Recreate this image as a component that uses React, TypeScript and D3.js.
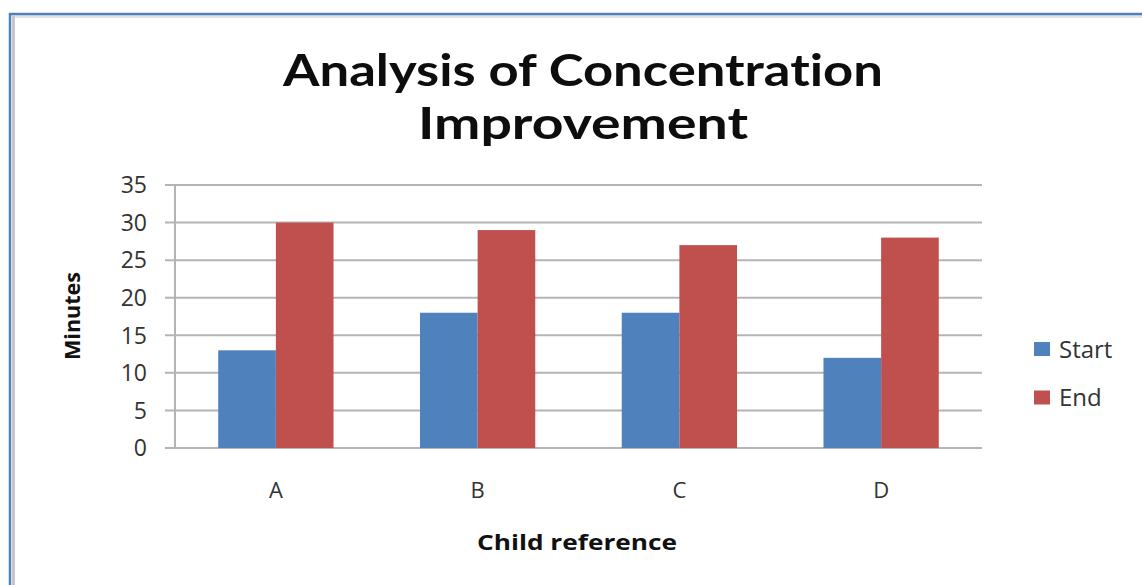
import React, { useEffect, useRef } from "react";
import * as d3 from "d3";

const categories = ["A", "B", "C", "D"];
const seriesNames = ["Start", "End"];
const startValues = [13, 18, 18, 12];
const endValues = [30, 29, 27, 28];
const yTicks = [0, 5, 10, 15, 20, 25, 30, 35];
const colors = ["#4f81bd", "#c0504d"];

const W = 1142, H = 585;

export default function App() {
  const ref = useRef<SVGSVGElement>(null);

  useEffect(() => {
    const svg = d3.select(ref.current);
    svg.selectAll("*").remove();

    const margin = { top: 185, right: 160, bottom: 137, left: 175 };
    const w = W - margin.left - margin.right,
      h = H - margin.top - margin.bottom;
    const font = "Open Sans, sans-serif";

    // outer frame (cropped screenshot of an Excel chart)
    svg.append("rect").attr("width", W).attr("height", H).attr("fill", "#fff");
    svg.append("line").attr("x1", 12).attr("x2", W).attr("y1", 16.5).attr("y2", 16.5)
      .attr("stroke", "#e4e4e4").attr("stroke-width", 3);
    svg.append("line").attr("x1", 13.5).attr("x2", 13.5).attr("y1", 16).attr("y2", H)
      .attr("stroke", "#c8c8c8").attr("stroke-width", 3);
    svg.append("line").attr("x1", 9).attr("x2", W).attr("y1", 14).attr("y2", 14)
      .attr("stroke", "#4f81bd").attr("stroke-width", 2.5);
    svg.append("line").attr("x1", 10).attr("x2", 10).attr("y1", 13).attr("y2", H)
      .attr("stroke", "#4f81bd").attr("stroke-width", 2.5);

    const g = svg.append("g").attr("transform", `translate(${margin.left},${margin.top})`);

    const x = d3.scaleBand().domain(categories).range([0, w]).padding(0);
    const y = d3.scaleLinear().domain([0, 35]).range([h, 0]);

    // gap width 150%
    const barW = x.bandwidth() / 3.5;
    const xs = d3.scaleBand().domain(seriesNames).range([0.75 * barW, 2.75 * barW]);

    // gridlines + tick marks
    g.selectAll(".grid").data(yTicks).join("line").attr("class", "grid")
      .attr("x1", -10).attr("x2", w)
      .attr("y1", d => y(d)).attr("y2", d => y(d))
      .attr("stroke", "#b4b4b4").attr("stroke-width", 2);
    g.append("line").attr("x1", 0).attr("x2", 0).attr("y1", 0).attr("y2", h)
      .attr("stroke", "#b4b4b4").attr("stroke-width", 2);

    g.selectAll(".ylab").data(yTicks).join("text").attr("class", "ylab")
      .attr("x", -28).attr("y", d => y(d)).attr("dy", "0.36em")
      .attr("text-anchor", "end").attr("font-family", font)
      .attr("font-size", 23).attr("fill", "#333").text(d => d);

    const rows = categories.map((c, i) => ({ c, vals: [startValues[i], endValues[i]] }));
    const grp = g.selectAll(".cat").data(rows).join("g").attr("class", "cat")
      .attr("transform", d => `translate(${x(d.c)},0)`);
    grp.selectAll("rect").data(d => d.vals.map((v, k) => ({ v, k })))
      .join("rect")
      .attr("x", d => xs(seriesNames[d.k])!)
      .attr("width", xs.bandwidth())
      .attr("y", d => y(d.v))
      .attr("height", d => h - y(d.v))
      .attr("fill", d => colors[d.k]);

    g.selectAll(".xlab").data(categories).join("text").attr("class", "xlab")
      .attr("x", d => x(d)! + x.bandwidth() / 2).attr("y", h + 42).attr("dy", "0.36em")
      .attr("text-anchor", "middle").attr("font-family", font)
      .attr("font-size", 22).attr("fill", "#333").text(d => d);

    // axis titles
    g.append("text").attr("x", 577 - margin.left).attr("y", 542 - margin.top).attr("dy", "0.36em")
      .attr("text-anchor", "middle").attr("font-family", font)
      .attr("font-weight", "bold").attr("font-size", 21).attr("fill", "#111")
      .attr("textLength", 200).attr("lengthAdjust", "spacingAndGlyphs")
      .text("Child reference");
    g.append("text").attr("transform", `translate(${72 - margin.left},${316 - margin.top}) rotate(-90)`)
      .attr("dy", "0.36em").attr("text-anchor", "middle")
      .attr("font-family", font).attr("font-weight", "bold")
      .attr("font-size", 22).attr("fill", "#111")
      .attr("textLength", 88).attr("lengthAdjust", "spacingAndGlyphs")
      .text("Minutes");

    // title
    const tFont = "Lato, Open Sans, sans-serif";
    svg.append("text").attr("text-anchor", "middle")
      .attr("font-family", tFont).attr("font-weight", "bold")
      .style("font-variant-ligatures", "none")
      .attr("font-size", 44).attr("fill", "#0d0d0d")
      .attr("x", 583).attr("y", 86).attr("textLength", 600).attr("lengthAdjust", "spacingAndGlyphs")
      .text("Analysis of Concentration");
    svg.append("text").attr("text-anchor", "middle")
      .attr("font-family", tFont).attr("font-weight", "bold")
      .style("font-variant-ligatures", "none")
      .attr("font-size", 44).attr("fill", "#0d0d0d")
      .attr("x", 583).attr("y", 139).attr("textLength", 330).attr("lengthAdjust", "spacingAndGlyphs")
      .text("Improvement");

    // legend
    const leg = svg.append("g").attr("transform", "translate(1034,349)");
    const li = leg.selectAll("g").data(seriesNames).join("g")
      .attr("transform", (d, i) => `translate(0,${i * 48.5})`);
    li.append("rect").attr("x", 0).attr("y", -7).attr("width", 16).attr("height", 14)
      .attr("fill", (d, i) => colors[i]);
    li.append("text").attr("x", 25).attr("dy", "0.36em")
      .attr("font-family", font).attr("font-size", 24).attr("fill", "#333")
      .text(d => d);
  }, []);

  return (
    <svg ref={ref} width={W} height={H} style={{ position: "absolute", left: 0, top: 0 }} />
  );
}
